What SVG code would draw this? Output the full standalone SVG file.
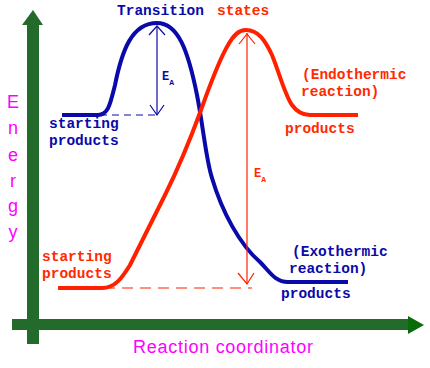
<svg xmlns="http://www.w3.org/2000/svg" width="430" height="368" viewBox="0 0 430 368">
<style>
.lbl{font-family:"Liberation Mono","Courier New",monospace;font-weight:bold;font-size:14.5px}
.blue{fill:#0A0AAA}
.red{fill:#FF2A00}
.mag{fill:#FF00FF;font-family:"Liberation Sans",Arial,sans-serif;font-size:18px}
.curve{fill:none;stroke-width:4;stroke-linecap:butt;stroke-linejoin:round}
.thin{fill:none;stroke-width:1.2}
</style>
<rect width="430" height="368" fill="#FFFFFF"/>
<g id="axes">
  <rect x="27" y="24" width="12" height="320" fill="#236B2B"/>
  <polygon points="33,10 43,25 22,25" fill="#236B2B"/>
  <rect x="12" y="319" width="397" height="11" fill="#236B2B"/>
  <polygon points="408,316 424,325 408,334" fill="#0A6B0A"/>
</g>
<g id="axis-labels" class="mag" text-anchor="middle">
  <text x="13" y="108">E</text>
  <text x="13" y="134">n</text>
  <text x="13" y="161">e</text>
  <text x="13" y="187">r</text>
  <text x="13" y="212">g</text>
  <text x="13" y="238">y</text>
</g>
<text id="x-label" class="mag" x="133" y="353" textLength="180" style="text-anchor:start">Reaction coordinator</text>
<g id="connectors">
  <path id="exo-curve" class="curve" stroke="#0A0AAA" d="M62,115 L98,115 C108,115 110,105 115,85 C122,50 132,23 157,23 C178,23 188,50 197,95 C203,125 206,160 212,178 C222,212 240,245 260,262 C270,272 275,282 288,282 L348,282"/>
  <path id="endo-curve" class="curve" stroke="#FF2000" d="M58,288 L102,288 C115,288 122,278 130,265 L165,195 C175,175 190,140 201,110 C210,85 218,62 228,45 C233,36 238,30 246,30 C258,30 265,40 272,55 C280,75 285,95 292,105 C297,112 302,115 310,115 L358,115"/>
  <line class="thin" stroke="#0A0AAA" x1="100" y1="115" x2="156" y2="115" stroke-dasharray="7,5"/>
  <line class="thin" stroke="#0A0AAA" x1="157" y1="26" x2="157" y2="115"/>
  <polyline class="thin" stroke="#0A0AAA" points="149,35 157,26 165,35"/>
  <polyline class="thin" stroke="#0A0AAA" points="150,105 157,115 164,105"/>
  <line class="thin" stroke="#FF2000" x1="104" y1="288" x2="252" y2="288" stroke-dasharray="11,7"/>
  <line class="thin" stroke="#FF2000" x1="247" y1="33" x2="247" y2="284"/>
  <polyline class="thin" stroke="#FF2000" points="239,44 247,34 255,44"/>
  <polyline class="thin" stroke="#FF2000" points="238,273 247,284 254,273"/>
</g>
<g id="labels" class="lbl">
  <text class="blue" x="117" y="15">Transition</text>
  <text class="red" x="217" y="15">states</text>
  <text class="blue" x="49" y="128">starting</text>
  <text class="blue" x="49" y="145">products</text>
  <text class="red" x="302" y="79">(Endothermic</text>
  <text class="red" x="301" y="96">reaction)</text>
  <text class="red" x="285" y="133">products</text>
  <text class="red" x="42" y="261">starting</text>
  <text class="red" x="42" y="278">products</text>
  <text class="blue" x="292" y="256">(Exothermic</text>
  <text class="blue" x="289" y="273">reaction)</text>
  <text class="blue" x="281" y="298">products</text>
  <text class="blue" x="162" y="80" style="font-size:12px">E<tspan dy="5" style="font-size:8px">A</tspan></text>
  <text class="red" x="254" y="177" style="font-size:12px">E<tspan dy="5" style="font-size:8px">A</tspan></text>
</g>
</svg>
